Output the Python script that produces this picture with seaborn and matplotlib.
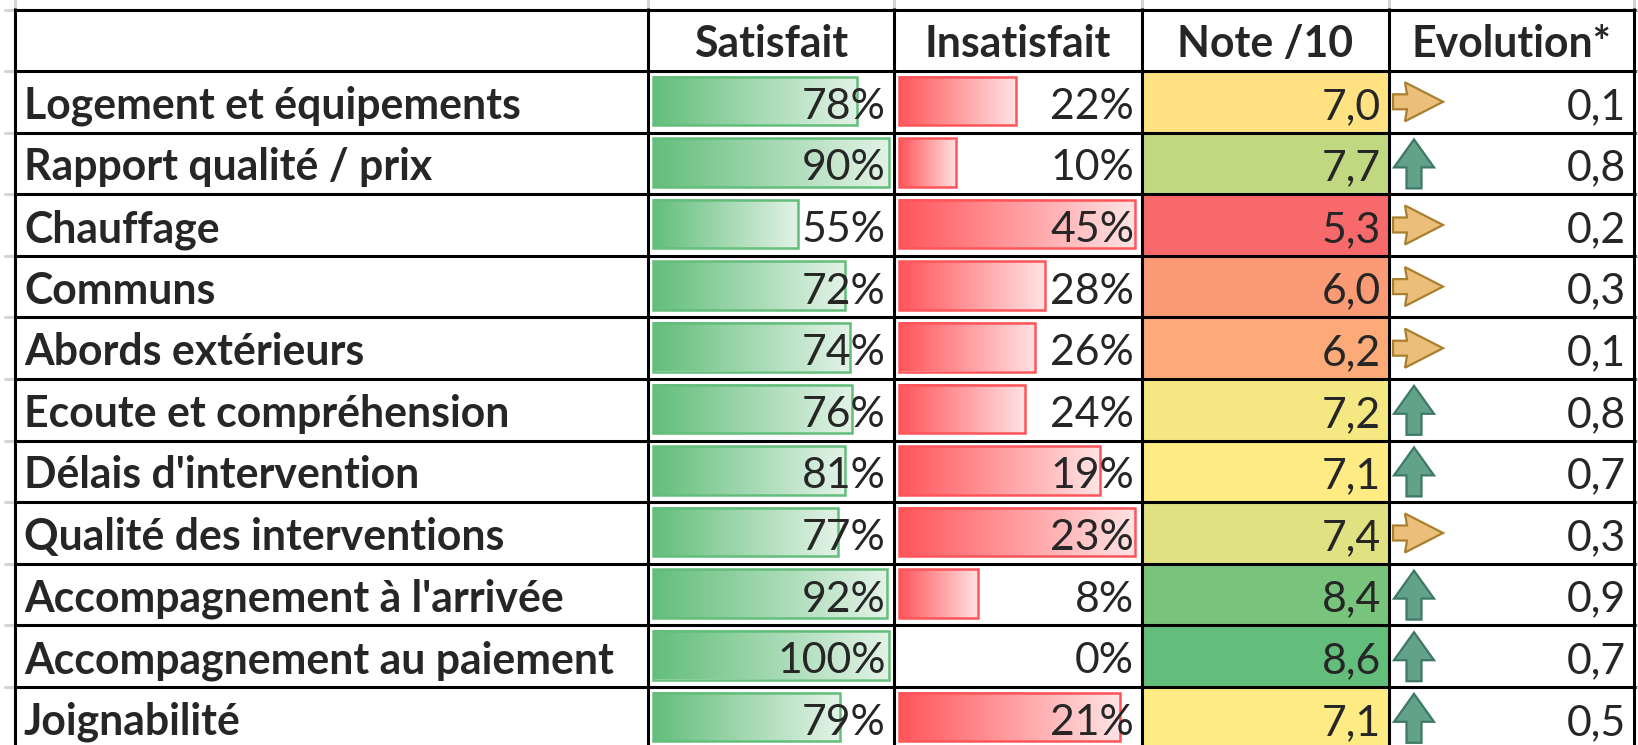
import numpy as np
import pandas as pd
import matplotlib.pyplot as plt
import seaborn as sns
from matplotlib.colors import LinearSegmentedColormap, TwoSlopeNorm
from matplotlib.patches import Rectangle, Polygon

# Données du tableau
criteres = ["Logement et équipements", "Rapport qualité / prix", "Chauffage", "Communs",
            "Abords extérieurs", "Ecoute et compréhension", "Délais d'intervention",
            "Qualité des interventions", "Accompagnement à l'arrivée",
            "Accompagnement au paiement", "Joignabilité"]
satisfait = [78, 90, 55, 72, 74, 76, 81, 77, 92, 100, 79]
insatisfait = [22, 10, 45, 28, 26, 24, 19, 23, 8, 0, 21]
note = [7.0, 7.7, 5.3, 6.0, 6.2, 7.2, 7.1, 7.4, 8.4, 8.6, 7.1]
evolution = [0.1, 0.8, 0.2, 0.3, 0.1, 0.8, 0.7, 0.3, 0.9, 0.7, 0.5]
# longueur des barres de données telles qu'affichées dans Excel (part de la cellule)
barre_sat = [0.83, 0.96, 0.59, 0.78, 0.80, 0.81, 0.78, 0.75, 0.95, 0.96, 0.76]
barre_insat = [0.47, 0.23, 0.95, 0.59, 0.55, 0.51, 0.81, 0.95, 0.32, 0.0, 0.89]
entetes = ["Satisfait", "Insatisfait", "Note /10", "Evolution*"]

sns.set_theme(style="white")
plt.rcParams["font.family"] = ["Lato", "DejaVu Sans"]

W, H = 1638, 745
col_x = [15, 648, 894, 1142, 1389, 1634]
y_top, y_head, row_h = 9.5, 71, 61.6
n = len(criteres)
row_y = [y_head + i * row_h for i in range(n + 1)]
fs = 30.8
lw_grid = 2.2

fig = plt.figure(figsize=(W / 100, H / 100), dpi=100, facecolor="white")

# colonne Note /10 : échelle à 3 couleurs (min / médiane / max)
cmap_note = LinearSegmentedColormap.from_list("note", ["#F8696B", "#FFEB84", "#63BE7B"])
norm = TwoSlopeNorm(vmin=min(note), vcenter=float(np.median(note)), vmax=max(note))
note_df = pd.DataFrame({"Note /10": note}, index=criteres)
ax_note = fig.add_axes([col_x[3] / W, 1 - row_y[-1] / H,
                        (col_x[4] - col_x[3]) / W, (row_y[-1] - y_head) / H])
sns.heatmap(note_df, ax=ax_note, cmap=cmap_note, norm=norm, cbar=False,
            xticklabels=False, yticklabels=False, linewidths=0)
ax_note.set_axis_off()
ax_note.set_zorder(0)

ax = fig.add_axes([0, 0, 1, 1])
ax.set_zorder(1)
ax.axis("off")

cmap_g = LinearSegmentedColormap.from_list("g", ["#63BE7B", "#E3F3E7"])
cmap_r = LinearSegmentedColormap.from_list("r", ["#FF555A", "#FFE3E4"])
grad = np.linspace(0, 1, 256)[None, :]

def data_bar(x_cell, w_cell, yt, frac, cmap, edge):
    if frac <= 0:
        return
    x0 = x_cell + 5
    L = frac * w_cell
    top, bot = yt + 5.5, yt + row_h - 7.5
    ax.imshow(grad, cmap=cmap, extent=[x0, x0 + L, bot, top], aspect="auto",
              interpolation="bilinear", zorder=2)
    ax.add_patch(Rectangle((x0, top), L, bot - top, fill=False, ec=edge, lw=1.8, zorder=3))

def arrow(x0, yc, up):
    if up:
        cx, t = x0 + 21, yc - 24
        pts = [(cx, t), (cx + 20, t + 28), (cx + 7.5, t + 28), (cx + 7.5, t + 49),
               (cx - 7.5, t + 49), (cx - 7.5, t + 28), (cx - 20, t + 28)]
        ax.add_patch(Polygon(pts, closed=True, fc="#62A18A", ec="#3E7A63", lw=1.6, zorder=3))
    else:
        pts = [(x0, yc - 7.5), (x0 + 14, yc - 7.5), (x0 + 12, yc - 19.5), (x0 + 50, yc),
               (x0 + 12, yc + 19.5), (x0 + 14, yc + 7.5), (x0, yc + 7.5)]
        ax.add_patch(Polygon(pts, closed=True, fc="#EBBE7A", ec="#A8802E", lw=1.6, zorder=3))

def fr(v, d=1):
    return f"{v:.{d}f}".replace(".", ",")

pad = 8
base = 17
for i in range(n):
    yt = row_y[i]
    yc = yt + row_h / 2
    data_bar(col_x[1], col_x[2] - col_x[1], yt, barre_sat[i], cmap_g, "#63BE7B")
    data_bar(col_x[2], col_x[3] - col_x[2], yt, barre_insat[i], cmap_r, "#FF555A")
    arrow(col_x[4] + 4, yc, evolution[i] >= 0.5)
    ax.text(24, yc + base, criteres[i], fontsize=fs, fontweight="bold",
            ha="left", va="baseline", zorder=5)
    ax.text(col_x[2] - pad, yc + base, f"{satisfait[i]}%", fontsize=fs,
            ha="right", va="baseline", zorder=5)
    ax.text(col_x[3] - pad, yc + base, f"{insatisfait[i]}%", fontsize=fs,
            ha="right", va="baseline", zorder=5)
    ax.text(col_x[4] - pad, yc + base, fr(note[i]), fontsize=fs,
            ha="right", va="baseline", zorder=5)
    ax.text(col_x[5] - pad, yc + base, fr(evolution[i]), fontsize=fs,
            ha="right", va="baseline", zorder=5)

hc = (y_top + y_head) / 2
for j, t in enumerate(entetes):
    ax.text((col_x[j + 1] + col_x[j + 2]) / 2, hc + base, t, fontsize=fs,
            fontweight="bold", ha="center", va="baseline", zorder=5)

# quadrillage Excel visible hors du tableau
for x in col_x:
    ax.plot([x, x], [0, y_top - 1.5], color="#D4D4D4", lw=2.2, zorder=1)
for y in [y_top] + row_y[:-1]:
    ax.plot([5, col_x[0] - 1.5], [y, y], color="#D4D4D4", lw=2.2, zorder=1)
    ax.plot([col_x[-1] + 1.5, W], [y, y], color="#D4D4D4", lw=2.2, zorder=1)

# bordures du tableau
for y in [y_top] + row_y:
    ax.plot([col_x[0] - 1.5, col_x[-1] + 1.5], [y, y], color="black", lw=lw_grid,
            solid_capstyle="butt", zorder=6)
for x in col_x:
    ax.plot([x, x], [y_top - 1.5, H + 5], color="black", lw=lw_grid,
            solid_capstyle="butt", zorder=6)

ax.set_xlim(0, W)
ax.set_ylim(H, 0)

fig.savefig("out.png", dpi=100, facecolor="white")
plt.close(fig)
